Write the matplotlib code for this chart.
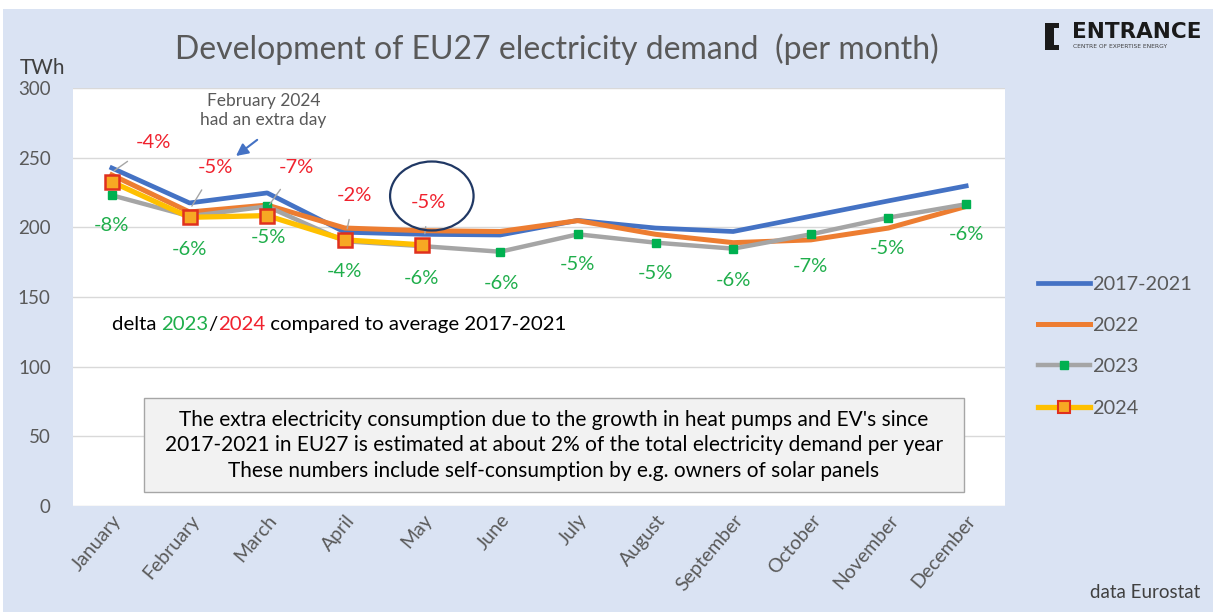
import numpy as np
import matplotlib
matplotlib.use("Agg")
import matplotlib.pyplot as plt
from matplotlib.patches import Rectangle, Ellipse
from matplotlib.lines import Line2D
from matplotlib.offsetbox import TextArea, HPacker, AnnotationBbox

plt.rcParams['font.family'] = ['Lato', 'DejaVu Sans']

# <------------------------------- data --------------------------------->
months = ['January', 'February', 'March', 'April', 'May', 'June', 'July',
          'August', 'September', 'October', 'November', 'December']
avg_2017_2021 = [242.6, 217.5, 224.7, 196.5, 195, 194.5, 205, 199.5, 197, 208, 219, 229.7]
y2022 = [237.6, 211, 216, 199.5, 197.6, 197, 204.8, 195, 189, 191, 199.5, 215]
y2023 = [223, 208, 215, 190, 186.5, 182.5, 195, 189, 184.7, 195, 207, 216.6]
y2024 = [232.6, 207.2, 208.4, 191, 187.4]

delta_2024 = ['-4%', '-5%', '-7%', '-2%', '-5%']
delta_2023 = ['-8%', '-6%', '-5%', '-4%', '-6%', '-6%', '-5%', '-5%', '-6%', '-7%', '-5%', '-6%']
# label positions (x index, TWh)
pos_2024 = [(0.54, 260.6), (1.33, 242.6), (2.37, 242.6), (3.12, 222.5), (4.08, 217.5)]
pos_2023 = [(0, 201), (1, 183.8), (2.01, 192.4), (3, 168), (3.98, 163), (5.02, 160),
            (6, 173), (7, 167), (8, 162), (9, 171.6), (9.99, 185), (11, 194.5)]

BG = '#dae3f3'
GREY_TXT = '#595959'
RED = '#f0222e'
GREEN = '#1fae4b'

W, H = 1213, 612
fig = plt.figure(figsize=(W / 100, H / 100), dpi=100, facecolor='white')
fig.patches.append(Rectangle((3 / W, 0), 1, (H - 9) / H, transform=fig.transFigure,
                             facecolor=BG, edgecolor='none', zorder=-10))

ax = fig.add_axes([73 / W, 1 - 506 / H, 932 / W, 418 / H])
ax.set_facecolor('white')
x = np.arange(len(months))

ax.plot(x, avg_2017_2021, color='#4472c4', lw=3.4, zorder=3)
ax.plot(x, y2022, color='#ed7d31', lw=3.6, zorder=4)
ax.plot(x, y2023, color='#a5a5a5', lw=3.2, marker='s', ms=6,
        mfc='#00b050', mec='#00b050', zorder=5)
ax.plot(x[:len(y2024)], y2024, color='#ffc000', lw=3.8, marker='s', ms=10,
        mfc='#f7a823', mec='#e0301e', mew=1.8, zorder=6)

ax.set_xlim(-0.5, 11.5)
ax.set_ylim(0, 300)
ax.set_yticks(np.arange(0, 301, 50))
ax.yaxis.grid(True, color='#d9d9d9', lw=1)
ax.set_axisbelow(True)
for s in ax.spines.values():
    s.set_visible(False)
ax.tick_params(length=0)
ax.tick_params(axis='y', pad=16, labelsize=13.5, labelcolor=GREY_TXT)
ax.set_xticks(x)
ax.set_xticklabels(months, rotation=50, ha='right', rotation_mode='anchor',
                   fontsize=14, color=GREY_TXT)
ax.tick_params(axis='x', pad=4)

# delta labels
for i, (t, (px, py)) in enumerate(zip(delta_2024, pos_2024)):
    ax.annotate(t, xy=(x[i] + 0.03, y2024[i] + 8), xytext=(px, py), color=RED,
                fontsize=14.5, ha='center', va='center', zorder=8,
                arrowprops=dict(arrowstyle='-', color='#a6a6a6', lw=1,
                                shrinkA=9, shrinkB=0))
for t, (px, py) in zip(delta_2023, pos_2023):
    ax.text(px, py, t, color=GREEN, fontsize=14.5, ha='center', va='center', zorder=8)

ax.add_patch(Ellipse((4.12, 222.5), 1.075, 49.5, facecolor='none', edgecolor='#203864',
                     lw=1.6, zorder=9))

ax.text(1.95, 284, 'February 2024\nhad an extra day', ha='center', va='center',
        fontsize=12.5, color=GREY_TXT, linespacing=1.25)
ax.annotate('', xy=(1.57, 250), xytext=(1.9, 264),
            arrowprops=dict(arrowstyle='-|>', color='#4472c4', lw=1.5, mutation_scale=18))

# delta legend text with coloured years
parts = [('delta ', 'black'), ('2023', GREEN), ('/', 'black'), ('2024', RED),
         (' compared to average 2017-2021', 'black')]
pack = HPacker(children=[TextArea(t, textprops=dict(color=c, fontsize=14.7)) for t, c in parts],
               pad=0, sep=0, align='baseline')
ax.add_artist(AnnotationBbox(pack, (0, 130), xycoords='data', box_alignment=(0, 0.5),
                             frameon=False, pad=0))

# info box
ax.add_patch(Rectangle((0.41, 10), 10.56, 67.5, facecolor='#f2f2f2', edgecolor='#a6a6a6',
                       lw=1, zorder=7))
ax.text(5.69, 43.5, "The extra electricity consumption due to the growth in heat pumps and EV's since\n"
        "2017-2021 in EU27 is estimated at about 2% of the total electricity demand per year\n"
        "These numbers include self-consumption by e.g. owners of solar panels",
        ha='center', va='center', fontsize=15, color='black', linespacing=1.36, zorder=8)

# legend
handles = [Line2D([], [], color='#4472c4', lw=3.4),
           Line2D([], [], color='#ed7d31', lw=3.6),
           Line2D([], [], color='#a5a5a5', lw=3.2, marker='s', ms=6, mfc='#00b050', mec='#00b050'),
           Line2D([], [], color='#ffc000', lw=3.8, marker='s', ms=8, mfc='#f7a823', mec='#e0301e', mew=1.5)]
fig.legend(handles, ['2017-2021', '2022', '2023', '2024'], loc='upper left',
           bbox_to_anchor=(1020 / W, 1 - 258 / H), frameon=False, fontsize=14.3,
           labelspacing=1.22, handlelength=2.6, handletextpad=0.12, labelcolor=GREY_TXT)

# titles and notes
fig.text(557 / W, 1 - 49 / H, 'Development of EU27 electricity demand  (per month)',
         ha='center', va='center', fontsize=23, color=GREY_TXT)
fig.text(42 / W, 1 - 68 / H, 'TWh', ha='center', va='center', fontsize=15, color='#404040')
fig.text(1145 / W, 1 - 593 / H, 'data Eurostat', ha='center', va='center', fontsize=13.5,
         color='#404040')

# logo
for rx, ry, rw, rh in [(1045, 23, 9, 27), (1045, 23, 14, 5), (1045, 45, 14, 5)]:
    fig.patches.append(Rectangle((rx / W, 1 - (ry + rh) / H), rw / W, rh / H,
                                 transform=fig.transFigure, facecolor='#1a1a1a',
                                 edgecolor='none'))
fig.text(1072 / W, 1 - 32 / H, 'ENTRANCE', ha='left', va='center', fontsize=15.5,
         fontweight='bold', color='#1a1a1a', family='DejaVu Sans')
fig.text(1073 / W, 1 - 47 / H, 'CENTRE OF EXPERTISE ENERGY', ha='left', va='center',
         fontsize=4.3, color='#404040', family='DejaVu Sans')

fig.savefig('out.png', dpi=100, facecolor=fig.get_facecolor())
